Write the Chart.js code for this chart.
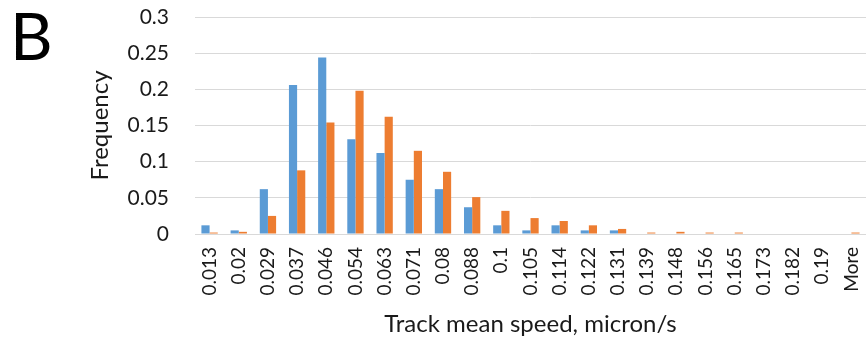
<!DOCTYPE html>
<html>
<head>
<meta charset="utf-8">
<script src="https://cdn.jsdelivr.net/npm/chart.js@4/dist/chart.umd.min.js"></script>
<style>
  html, body { margin: 0; padding: 0; background: #fff; }
  #wrap { position: relative; width: 866px; height: 339px; }
  #panel { position: absolute; left: 10px; top: 2px; font-family: Lato, sans-serif; font-size: 66px; line-height: 66px; color: #000; }
</style>
</head>
<body>
<div id="wrap">
  <canvas id="c" width="866" height="339"></canvas>
  <div id="panel">B</div>
</div>
<script>
const categories = ["0.013","0.02","0.029","0.037","0.046","0.054","0.063","0.071","0.08","0.088","0.1","0.105","0.114","0.122","0.131","0.139","0.148","0.156","0.165","0.173","0.182","0.19","More"];
const seriesBlue   = [0.012,0.005,0.062,0.206,0.244,0.131,0.112,0.075,0.062,0.037,0.012,0.005,0.012,0.005,0.005,0,0,0,0,0,0,0,0];
const seriesOrange = [0.002,0.003,0.025,0.088,0.154,0.198,0.162,0.115,0.086,0.051,0.032,0.022,0.018,0.012,0.007,0.002,0.003,0.002,0.002,0,0,0,0.002];
const yTicks = [0, 0.05, 0.1, 0.15, 0.2, 0.25, 0.3];
const yTitle = "Frequency";
const xTitle = "Track mean speed, micron/s";

const FONT = "Lato, 'Open Sans', sans-serif";
const TXT = "#1a1a1a";

new Chart(document.getElementById('c'), {
  type: 'bar',
  data: {
    labels: categories,
    datasets: [
      { label: 'A', data: seriesBlue, backgroundColor: '#5B9BD5', categoryPercentage: 0.56, barPercentage: 1.0 },
      { label: 'B', data: seriesOrange, backgroundColor: '#ED7D31', categoryPercentage: 0.56, barPercentage: 1.0 }
    ]
  },
  options: {
    responsive: false,
    animation: false,
    layout: { padding: { top: 17, right: 0, left: 0, bottom: 0 } },
    plugins: { legend: { display: false }, tooltip: { enabled: false } },
    scales: {
      x: {
        grid: { display: false, drawTicks: false },
        border: { display: true, color: '#D9D9D9', width: 1 },
        ticks: { autoSkip: false, minRotation: 90, maxRotation: 90, padding: 13, color: TXT, font: { family: FONT, size: 19 } },
        title: { display: true, text: xTitle, color: TXT, font: { family: FONT, size: 24 }, padding: { top: 5, bottom: 0 } },
        afterFit: (s) => { s.height = 105; s.paddingLeft = 0; s.paddingRight = 0; }
      },
      y: {
        min: 0, max: 0.3,
        afterBuildTicks: (s) => { s.ticks = yTicks.map(v => ({ value: v })); },
        grid: { color: '#D9D9D9', lineWidth: 1, drawTicks: false },
        border: { display: false },
        ticks: { padding: 26, color: TXT, font: { family: FONT, size: 21 }, callback: (v) => String(v) },
        title: { display: true, text: yTitle, color: TXT, font: { family: FONT, size: 24 }, padding: { top: 86, bottom: 0 } },
        afterFit: (s) => { s.width = 195; s.paddingTop = 0; s.paddingBottom = 0; }
      }
    }
  }
});
</script>
</body>
</html>
